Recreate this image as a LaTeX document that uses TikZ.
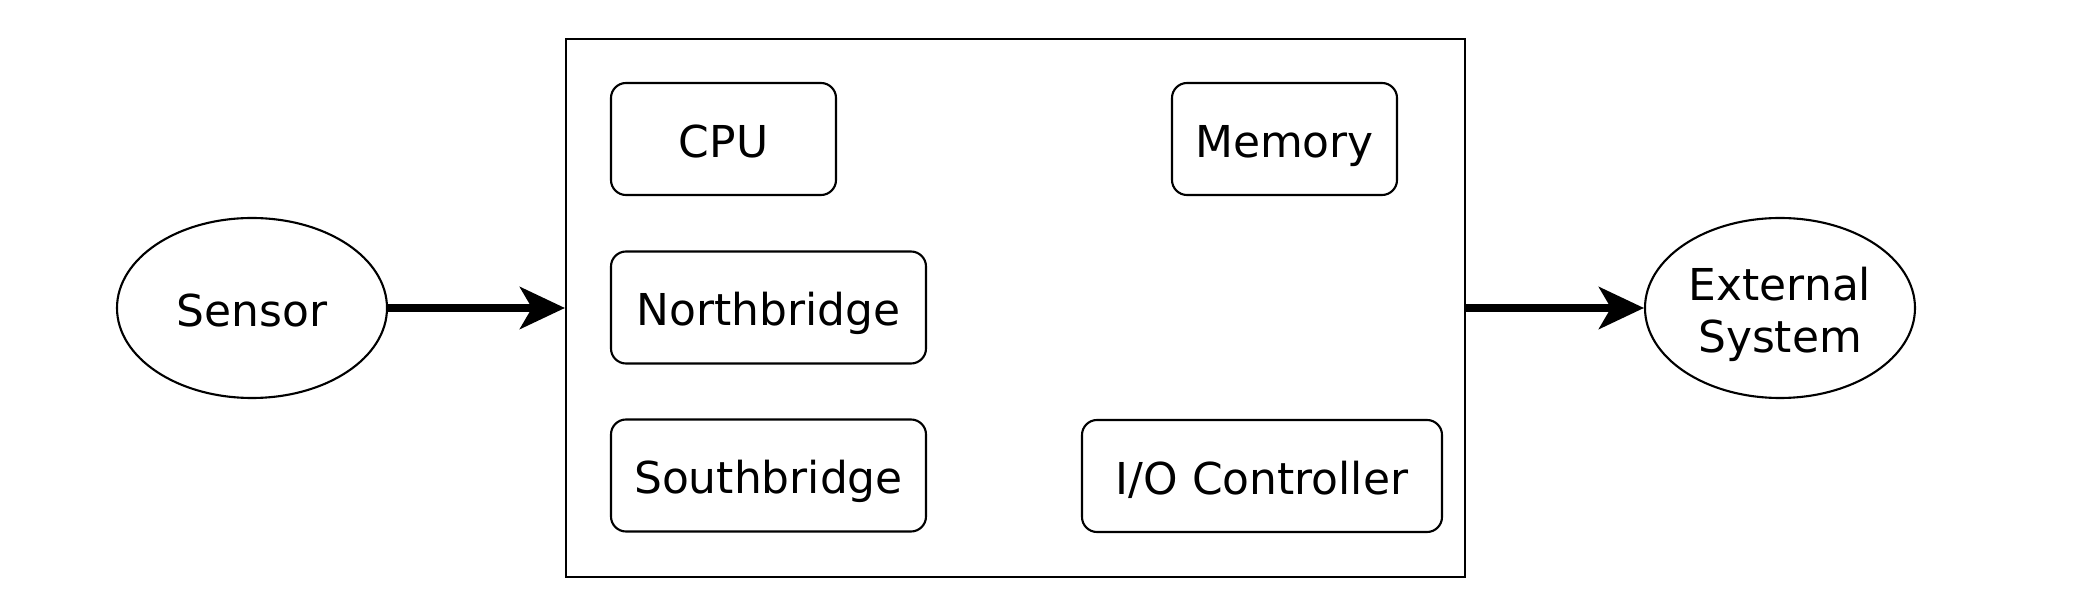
\documentclass[tikz,border=0pt]{standalone}
\usepackage{fontspec}
\setmainfont{DejaVu Sans}
\usetikzlibrary{arrows.meta, positioning, shapes.geometric}

\begin{document}
\begin{tikzpicture}[
  font=\fontsize{12.5}{15}\selectfont,
  unit/.style={draw, line width=0.6pt, rounded corners=0.15cm, minimum height=1.12cm, inner sep=0pt, text height=10.5pt, text depth=0pt, align=center},
  ext/.style={draw, ellipse, line width=0.6pt, minimum width=2.7cm, minimum height=1.8cm, inner sep=0pt, text depth=0pt, align=center},
  board/.style={draw, line width=0.6pt, minimum width=8.99cm, minimum height=5.38cm, inner sep=0pt},
  flow/.style={line width=2.1pt, -{Stealth[length=4.5mm, width=4.2mm, inset=1.2mm]}}
]
\useasboundingbox (0,0) rectangle (20.98,6.12);

% Outer system box with its parts
\node[board] (sys) at (10.155,3.04) {};
\node[unit, minimum width=2.25cm] (cpu) at (7.235,4.73) {CPU};
\node[unit, minimum width=2.25cm] (mem) at (12.845,4.73) {Memory};
\node[unit, minimum width=3.15cm] (nb) at (7.685,3.045) {Northbridge};
\node[unit, minimum width=3.15cm] (sb) at (7.685,1.365) {Southbridge};
\node[unit, minimum width=3.6cm] (io) at (12.62,1.36) {I/O Controller};

% Input and output
\node[ext, text height=10.5pt] (sensor) at (2.52,3.04) {Sensor};
\node[ext, text height=25.5pt] (extsys) at (17.80,3.04) {External\\System};
\draw[flow] (sensor.east) -- (sys.west);
\draw[flow] (sys.east) -- (extsys.west);
\end{tikzpicture}
\end{document}
